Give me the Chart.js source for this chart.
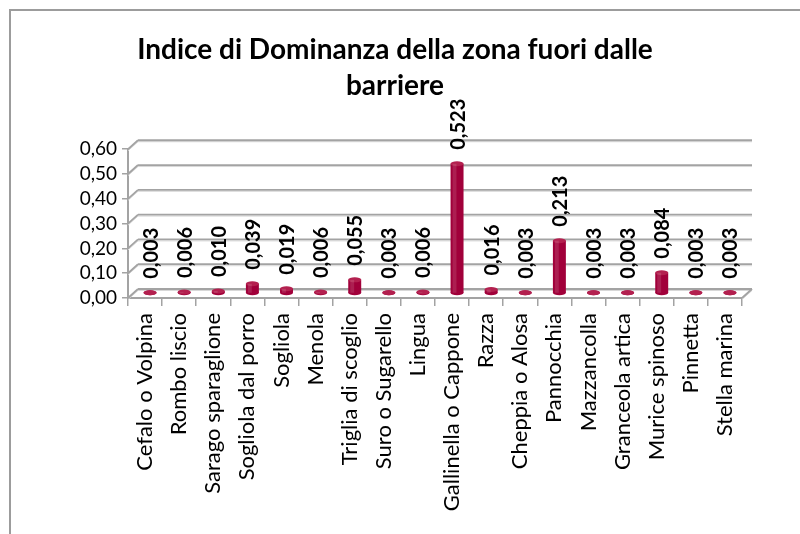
<!DOCTYPE html>
<html>
<head>
<meta charset="utf-8">
<script src="https://cdn.jsdelivr.net/npm/chart.js@4/dist/chart.umd.min.js"></script>
<style>
  html, body { margin: 0; padding: 0; background: #fff; }
  #wrap { position: relative; width: 800px; height: 534px; }
</style>
</head>
<body>
<div id="wrap"><canvas id="chart" width="800" height="534"></canvas></div>
<script>
const species = [
  'Cefalo o Volpina', 'Rombo liscio', 'Sarago sparaglione', 'Sogliola dal porro',
  'Sogliola', 'Menola', 'Triglia di scoglio', 'Suro o Sugarello', 'Lingua',
  'Gallinella o Cappone', 'Razza', 'Cheppia o Alosa', 'Pannocchia', 'Mazzancolla',
  'Granceola artica', 'Murice spinoso', 'Pinnetta', 'Stella marina'
];
const dominance = [
  0.003, 0.006, 0.010, 0.039, 0.019, 0.006, 0.055, 0.003, 0.006,
  0.523, 0.016, 0.003, 0.213, 0.003, 0.003, 0.084, 0.003, 0.003
];
const yMin = 0;
const yMax = 0.6;
const yStep = 0.1;

const FONT = 'Lato';
const BAR = '#a1003a';
const GRID = '#a3a3a3';
// depth of the fake 3d box
const DX = 10;
const DY = 9;

const comma = (v, d) => v.toFixed(d).replace('.', ',');

// outer frame of the chart object
const frame = {
  id: 'frame',
  beforeDraw(chart) {
    const { ctx, width, height } = chart;
    ctx.save();
    ctx.fillStyle = '#fff';
    ctx.fillRect(0, 0, width, height);
    ctx.strokeStyle = '#9c9c9c';
    ctx.lineWidth = 2;
    ctx.beginPath();
    ctx.moveTo(10, height);
    ctx.lineTo(10, 10);
    ctx.lineTo(width, 10);
    ctx.stroke();
    ctx.restore();
  }
};

// back wall, side wall edges and floor
const box3d = {
  id: 'box3d',
  beforeDatasetsDraw(chart) {
    const { ctx, chartArea: a, scales: { y } } = chart;
    ctx.save();
    const line = (x1, y1, x2, y2) => {
      ctx.strokeStyle = '#d8d8d8';
      ctx.lineWidth = 1;
      ctx.beginPath();
      ctx.moveTo(x1, y1 + 1.5);
      ctx.lineTo(x2, y2 + 1.5);
      ctx.stroke();
      ctx.strokeStyle = GRID;
      ctx.lineWidth = 1.8;
      ctx.beginPath();
      ctx.moveTo(x1, y1);
      ctx.lineTo(x2, y2);
      ctx.stroke();
    };
    y.ticks.forEach(t => {
      const py = y.getPixelForValue(t.value);
      line(a.left, py, a.left + DX, py - DY);
      line(a.left + DX, py - DY, a.right + DX, py - DY);
    });
    const y0 = y.getPixelForValue(0);
    line(a.right, y0, a.right + DX, y0 - DY);
    ctx.restore();
    // bars stand in the middle of the box depth
    ctx.save();
    ctx.translate(DX / 2, -DY / 2);
  },
  afterDatasetsDraw(chart) {
    const { ctx } = chart;
    const meta = chart.getDatasetMeta(0);
    // cylinder caps
    meta.data.forEach(bar => {
      const r = bar.width / 2;
      ctx.fillStyle = BAR;
      ctx.beginPath();
      ctx.ellipse(bar.x, bar.base, r, 2.5, 0, 0, Math.PI * 2);
      ctx.fill();
      ctx.fillStyle = '#b3204f';
      ctx.beginPath();
      ctx.ellipse(bar.x, bar.y, r, 2.5, 0, 0, Math.PI * 2);
      ctx.fill();
      ctx.fillStyle = 'rgba(255,255,255,0.12)';
      ctx.fillRect(bar.x - r + 2, bar.y, r * 0.6, bar.base - bar.y);
    });
    // value labels
    ctx.fillStyle = '#000';
    ctx.font = `bold 20px ${FONT}`;
    ctx.textAlign = 'left';
    ctx.textBaseline = 'middle';
    meta.data.forEach((bar, i) => {
      ctx.save();
      ctx.translate(bar.x + 1, bar.y - 14);
      ctx.rotate(-Math.PI / 2);
      ctx.fillText(comma(dominance[i], 3), 0, 0);
      ctx.restore();
    });
    ctx.restore();
  }
};

new Chart(document.getElementById('chart'), {
  type: 'bar',
  data: {
    labels: species,
    datasets: [{
      data: dominance,
      backgroundColor: BAR,
      borderWidth: 0,
      barPercentage: 0.76,
      categoryPercentage: 0.5
    }]
  },
  options: {
    responsive: false,
    animation: false,
    layout: { padding: { left: 48, right: 58, top: 0, bottom: 0 } },
    scales: {
      x: {
        grid: { display: true, drawOnChartArea: false, color: GRID, tickLength: 8, lineWidth: 1.5, offset: true },
        border: { color: GRID, width: 2 },
        ticks: {
          color: '#000',
          minRotation: 90,
          maxRotation: 90,
          autoSkip: false,
          padding: 7,
          font: { family: FONT, size: 22 }
        },
        afterFit(scale) { scale.height = 236; }
      },
      y: {
        min: yMin,
        max: yMax,
        grid: { display: true, drawOnChartArea: false, color: GRID, tickLength: 6, lineWidth: 1.5 },
        border: { color: GRID, width: 2 },
        ticks: {
          stepSize: yStep,
          autoSkip: false,
          color: '#000',
          padding: 5,
          font: { family: FONT, size: 19 },
          callback: v => comma(v, 2)
        },
        afterFit(scale) { scale.width = 80; }
      }
    },
    plugins: {
      legend: { display: false },
      tooltip: { enabled: false },
      title: {
        display: true,
        text: ['Indice di Dominanza della zona fuori dalle', 'barriere'],
        color: '#000',
        font: { family: FONT, size: 28, weight: 'bold', lineHeight: 1.29 },
        padding: { top: 32, bottom: 45 }
      }
    }
  },
  plugins: [frame, box3d]
});
</script>
</body>
</html>
